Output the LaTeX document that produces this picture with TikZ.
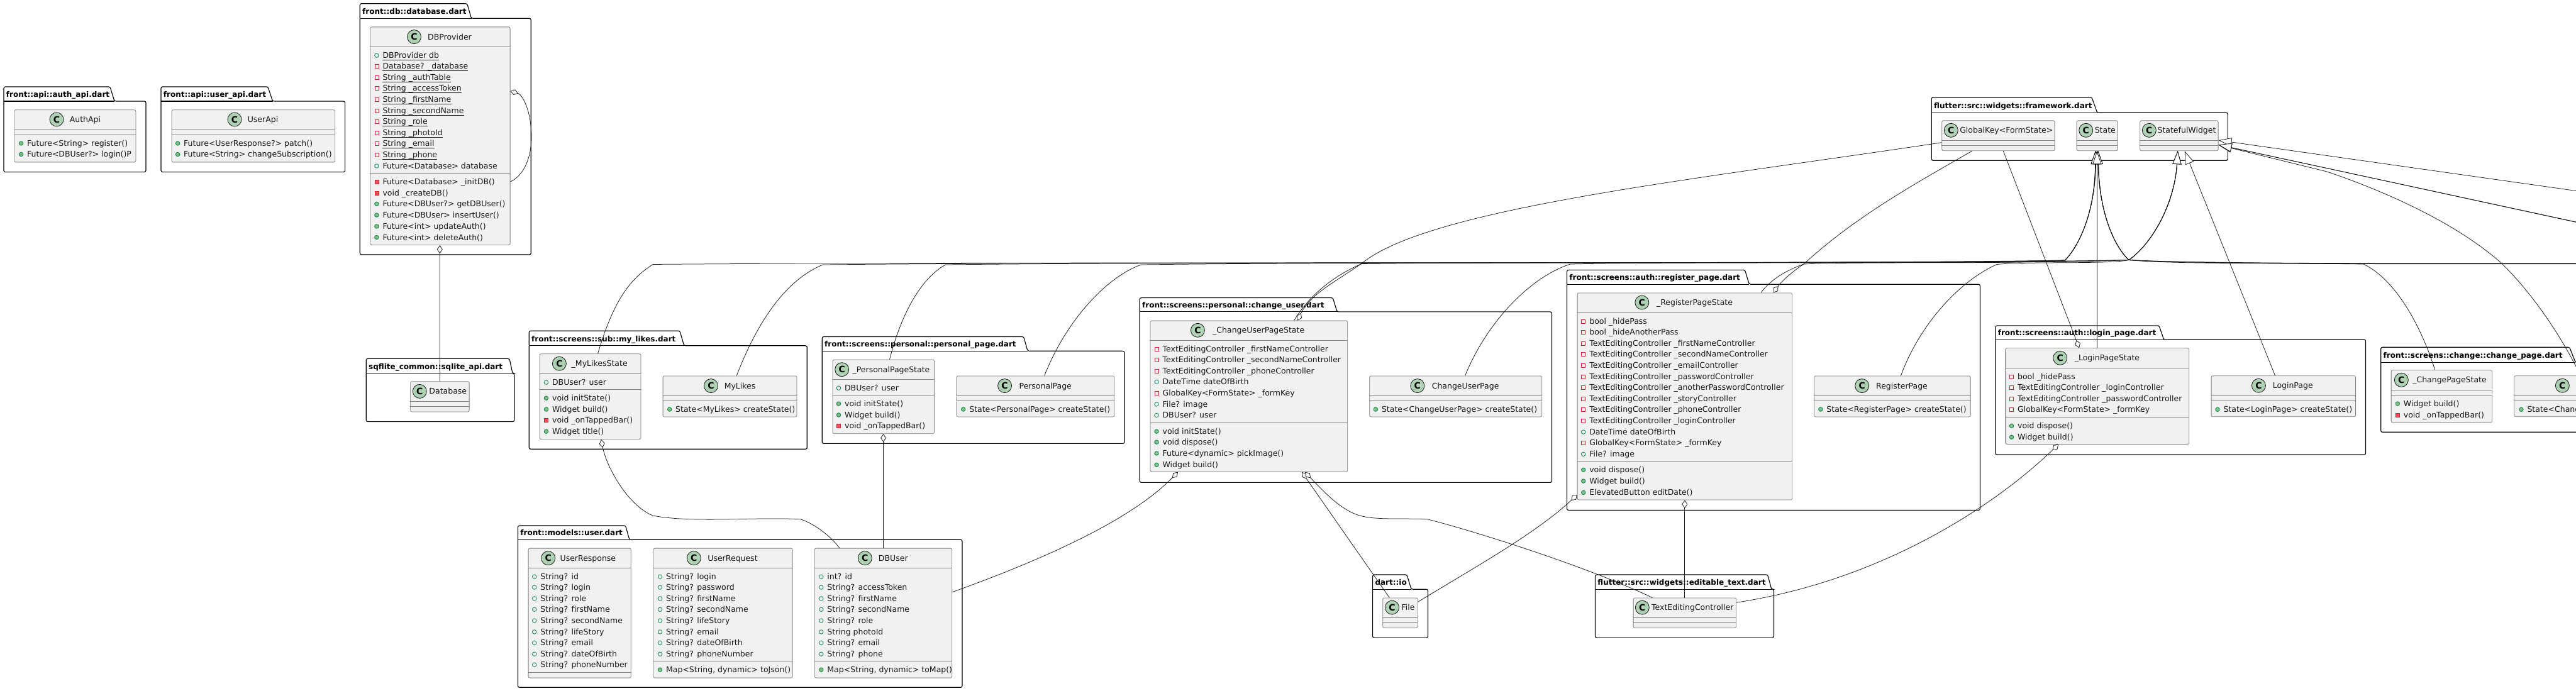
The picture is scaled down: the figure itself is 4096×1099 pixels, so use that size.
\documentclass[tikz,border=0pt]{standalone}
\usepackage{fontspec}
\setmainfont{DejaVu Sans}
\usetikzlibrary{arrows.meta}
\definecolor{boxfill}{HTML}{F1F1F1}
\definecolor{boxline}{HTML}{808080}
\definecolor{circfill}{HTML}{ADD1B2}
\definecolor{ink}{HTML}{181818}
\definecolor{gline}{HTML}{038048}
\definecolor{gfill}{HTML}{84BE84}
\definecolor{rline}{HTML}{C82930}
\definecolor{rfill}{HTML}{F24D5C}
\newcounter{rowc}
\def\rx{0}
\tikzset{
  classbox/.style={draw=boxline,fill=boxfill,line width=0.8pt,rounded corners=2.5pt,inner sep=0pt},
  sepline/.style={draw=boxline,line width=0.8pt},
  circ/.style={circle,draw=ink,fill=circfill,line width=0.8pt,minimum size=22pt,inner sep=0pt,font=\fontsize{14}{14}\selectfont\bfseries,text=black},
  nametxt/.style={anchor=base,inner sep=0pt,font=\fontsize{12.5}{15}\selectfont,text=black!90},
  rowtxt/.style={anchor=base west,inner sep=0pt,font=\fontsize{12.5}{15}\selectfont,text=black!90},
  pkgline/.style={draw=black,line width=1.15pt,rounded corners=2.5pt,fill=white},
  pkgtxt/.style={anchor=base west,inner sep=0pt,font=\fontsize{12}{14}\selectfont\bfseries,text=black},
  ipf/.style={circle,draw=gline,line width=0.8pt,minimum size=6.5pt,inner sep=0pt},
  ipm/.style={circle,draw=gline,fill=gfill,line width=0.8pt,minimum size=6.5pt,inner sep=0pt},
  ixf/.style={rectangle,draw=rline,line width=0.8pt,minimum size=6pt,inner sep=0pt},
  ixm/.style={rectangle,draw=rline,fill=rfill,line width=0.8pt,minimum size=6pt,inner sep=0pt},
  ed/.style={draw=ink,line width=0.75pt},
  inh/.style={-{Triangle[open,fill=white,length=21pt,width=14pt]}},
  agg/.style={{Diamond[open,fill=white,length=13pt,width=9pt]}-},
}
\newcommand\pkg[9]{%
  \draw[pkgline] (#2,#5) -- (#2,#4) -- (#7,#4) -- (#8,#5) -- (#3,#5) -- (#3,#6) -- (#2,#6) -- cycle;
  \draw[draw=black,line width=1.15pt] (#2,#5) -- (#8,#5);
  \node[pkgtxt] (#1) at (#2+3.7,#5-6.6) {#9};}
\newcommand\cbox[7]{%
  \pgfmathsetmacro\cw{#3-#2}\pgfmathsetmacro\ch{#7-#4}%
  \node[classbox,minimum width=\cw pt,minimum height=\ch pt,anchor=north west] (#1) at (#2,#4) {};
  \draw[sepline] (#2,#5) -- (#3,#5);
  \draw[sepline] (#2,#6) -- (#3,#6);}
\newcommand\chead[5]{%
  \node[circ] (#1-c) at (#2,#3) {C};
  \node[nametxt] (#1-n) at (#4,#3+4.5) {#5};}
\newcommand\R[3]{\stepcounter{rowc}%
  \node[#1] (ic\arabic{rowc}) at (\rx-9.4,#2) {};
  \node[rowtxt] (rw\arabic{rowc}) at (\rx,#2+4.5) {#3};}
\newcommand\RU[3]{\R{#1}{#2}{#3}%
  \draw[draw=black!90,line width=0.7pt] ([yshift=-2.6pt]rw\arabic{rowc}.base west) -- ([yshift=-2.6pt]rw\arabic{rowc}.base east);}
% edges to State through the left peak
\newcommand\edgeA[6]{%
  \draw[ed,inh] (#1) .. controls (#2) and (#3) .. (#4,#5) .. controls ({#4+(3283.3-#4)*0.25},415.5) and ({#4+(3283.3-#4)*0.85},420.5) .. (peakL) .. controls (3305,392) and (3331,340) .. ([xshift=#6pt]cState.south west);}
% edges to StatefulWidget through the right peak
\newcommand\edgeB[5]{%
  \draw[ed,inh] (#1) .. controls (#2) and (#3) .. (#4,#5) .. controls ({#4+(3385-#4)*0.25},415.5) and ({#4+(3385-#4)*0.85},420.5) .. (peakR) .. controls (3425,385) and (3458,320) .. ([xshift=60.4pt]cStatefulWidget.south west);}
\begin{document}
\begin{tikzpicture}[x=1pt,y=-1pt]
\useasboundingbox (0,0) rectangle (4096,1099);
\clip (0,0) rectangle (4096,1099);
\fill[white] (0,0) rectangle (4096,1099);

% ---------- packages
\pkg{pAuth}{6}{232}{138}{161}{273.6}{175}{182}{front::api::auth\_api.dart}
\pkg{pUser}{256}{548.6}{138}{161}{273.6}{426}{433.5}{front::api::user\_api.dart}
\pkg{pDb}{572.3}{844.3}{5.7}{29.3}{405}{742.7}{749.5}{front::db::database.dart}
\pkg{pSql}{582.3}{817.7}{570.4}{593.7}{670.6}{810}{815}{sqflite\_common::sqlite\_api.dart}
\pkg{pLikes}{841.3}{1283.3}{526.2}{549.8}{714.3}{1080.9}{1087.7}{front::screens::sub::my\_likes.dart}
\pkg{pPers}{1307.3}{1787.8}{535.5}{558.3}{705.4}{1627.7}{1634}{front::screens::personal::personal\_page.dart}
\pkg{pModels}{823.5}{1530}{836}{858.3}{1093.3}{994.6}{1000.8}{front::models::user.dart}
\pkg{pChUser}{1812.3}{2467.5}{473.6}{495.9}{767.4}{2119.3}{2126}{front::screens::personal::change\_user.dart}
\pkg{pIo}{2182.6}{2270.5}{914}{937.2}{1014.4}{2237}{2244}{dart::io}
\pkg{pReg}{2491.5}{3148.4}{429.4}{452.2}{811.5}{2774.5}{2781.3}{front::screens::auth::register\_page.dart}
\pkg{pEdit}{2536.5}{2820.5}{914}{937.2}{1014.4}{2810.6}{2816.8}{flutter::src::widgets::editable\_text.dart}
\pkg{pFw}{3071.3}{3542.3}{154.7}{179.3}{255.3}{3326}{3334.7}{flutter::src::widgets::framework.dart}
\pkg{pLogin}{3172.9}{3761.5}{517.9}{540.2}{723.3}{3433}{3440.6}{front::screens::auth::login\_page.dart}
\pkg{pChange}{3785.7}{4290}{552.3}{576.3}{687.3}{4085.7}{4095}{front::screens::change::change\_page.dart}

% ---------- classes
\cbox{cAuthApi}{22.5}{215.5}{174.3}{206.4}{214.3}{257.5}
\chead{cAuthApi}{90}{190}{135.5}{AuthApi}
\def\rx{43}
\R{ipm}{228}{Future<String> register()}
\R{ipm}{245.5}{Future<DBUser?> login()P}

\cbox{cUserApi}{272.5}{532.4}{174.3}{206.4}{214.3}{257.5}
\chead{cUserApi}{373}{190}{418}{UserApi}
\def\rx{292}
\R{ipm}{228}{Future<UserResponse?> patch()}
\R{ipm}{245.5}{Future<String> changeSubscription()}

\cbox{cDBProvider}{588.4}{810.7}{42.5}{74.3}{275.4}{389.3}
\chead{cDBProvider}{658.5}{58.6}{715}{DBProvider}
\def\rx{608.3}
\RU{ipf}{88.2}{DBProvider db}
\RU{ixf}{105.4}{Database? \_database}
\RU{ixf}{123.2}{String \_authTable}
\RU{ixf}{140.4}{String \_accessToken}
\RU{ixf}{158.2}{String \_firstName}
\RU{ixf}{176}{String \_secondName}
\RU{ixf}{193.2}{String \_role}
\RU{ixf}{211}{String \_photoId}
\RU{ixf}{228.2}{String \_email}
\RU{ixf}{246}{String \_phone}
\R{ipf}{264}{Future<Database> database}
\R{ixm}{289.3}{Future<Database> \_initDB()}
\R{ixm}{307.1}{void \_createDB()}
\R{ipm}{324.3}{Future<DBUser?> getDBUser()}
\R{ipm}{342.1}{Future<DBUser> insertUser()}
\R{ipm}{360}{Future<int> updateAuth()}
\R{ipm}{377.5}{Future<int> deleteAuth()}

\cbox{cDatabase}{652.3}{745.7}{606.3}{638.5}{646.1}{654.6}
\chead{cDatabase}{667.3}{622.4}{712.3}{Database}

\cbox{cMyLikesState}{857.5}{1018.6}{562.3}{594.4}{619.4}{698.3}
\chead{cMyLikesState}{889.4}{578.3}{953.2}{\_MyLikesState}
\def\rx{877.9}
\R{ipf}{608.2}{DBUser? user}
\R{ipm}{633.2}{void initState()}
\R{ipm}{651}{Widget build()}
\R{ixm}{668}{void \_onTappedBar()}
\R{ipm}{686.2}{Widget title()}

\cbox{cMyLikes}{1053.7}{1266.5}{597.5}{629.6}{637.6}{662.6}
\chead{cMyLikes}{1130.5}{613.6}{1176.6}{MyLikes}
\def\rx{1074}
\R{ipm}{651}{State<MyLikes> createState()}

\cbox{cPersonalPageState}{1323.5}{1485.1}{571.6}{603.3}{628.3}{689.3}
\chead{cPersonalPageState}{1338.7}{587.7}{1417}{\_PersonalPageState}
\def\rx{1342.9}
\R{ipf}{617.1}{DBUser? user}
\R{ipm}{642.1}{void initState()}
\R{ipm}{660}{Widget build()}
\R{ixm}{677.3}{void \_onTappedBar()}

\cbox{cPersonalPage}{1520.7}{1771.5}{597.5}{629.6}{637.6}{662.6}
\chead{cPersonalPage}{1597.6}{613.6}{1662.2}{PersonalPage}
\def\rx{1541.1}
\R{ipm}{651}{State<PersonalPage> createState()}

\cbox{cUserResponse}{839.7}{1002.9}{871.7}{903.8}{1069.2}{1077.7}
\chead{cUserResponse}{871.7}{887.7}{934.9}{UserResponse}
\def\rx{859.1}
\R{ipf}{917.2}{String? id}
\R{ipf}{934.1}{String? login}
\R{ipf}{951.9}{String? role}
\R{ipf}{969.3}{String? firstName}
\R{ipf}{987.1}{String? secondName}
\R{ipf}{1005}{String? lifeStory}
\R{ipf}{1022.4}{String? email}
\R{ipf}{1040.2}{String? dateOfBirth}
\R{ipf}{1057.2}{String? phoneNumber}

\cbox{cUserRequest}{1038.5}{1259.7}{871.7}{903.8}{1051.4}{1077.7}
\chead{cUserRequest}{1103.3}{887.7}{1165}{UserRequest}
\def\rx{1058.9}
\R{ipf}{917.2}{String? login}
\R{ipf}{934.1}{String? password}
\R{ipf}{951.9}{String? firstName}
\R{ipf}{969.3}{String? secondName}
\R{ipf}{987.1}{String? lifeStory}
\R{ipf}{1005}{String? email}
\R{ipf}{1022.4}{String? dateOfBirth}
\R{ipf}{1040.2}{String? phoneNumber}
\R{ipm}{1065.2}{Map<String, dynamic> toJson()}

\cbox{cDBUser}{1294.8}{1513.4}{871.7}{903.8}{1051.4}{1077.7}
\chead{cDBUser}{1375.3}{887.7}{1420.3}{DBUser}
\def\rx{1315.2}
\R{ipf}{917.2}{int? id}
\R{ipf}{934.1}{String? accessToken}
\R{ipf}{951.9}{String? firstName}
\R{ipf}{969.3}{String? secondName}
\R{ipf}{987.1}{String? role}
\R{ipf}{1005}{String photoId}
\R{ipf}{1022.4}{String? email}
\R{ipf}{1040.2}{String? phone}
\R{ipm}{1065.2}{Map<String, dynamic> toMap()}

\cbox{cChangeUserPageState}{1828.6}{2142.4}{509.7}{541.3}{672}{750}
\chead{cChangeUserPageState}{1904.4}{525.3}{2001.2}{\_ChangeUserPageState}
\def\rx{1848.4}
\R{ixf}{555.2}{TextEditingController \_firstNameController}
\R{ixf}{572.1}{TextEditingController \_secondNameController}
\R{ixf}{589.9}{TextEditingController \_phoneController}
\R{ipf}{607.3}{DateTime dateOfBirth}
\R{ixf}{625.1}{GlobalKey<FormState> \_formKey}
\R{ipf}{643}{File? image}
\R{ipf}{660.4}{DBUser? user}
\R{ipm}{686.2}{void initState()}
\R{ipm}{703.2}{void dispose()}
\R{ipm}{721}{Future<dynamic> pickImage()}
\R{ipm}{739.3}{Widget build()}

\cbox{cChangeUserPage}{2177.4}{2451.3}{597.5}{629.6}{637.6}{662.6}
\chead{cChangeUserPage}{2253.8}{613.6}{2330.1}{ChangeUserPage}
\def\rx{2196.8}
\R{ipm}{651}{State<ChangeUserPage> createState()}

\cbox{cFile}{2198.3}{2253.8}{950.6}{982.2}{990.3}{998.3}
\chead{cFile}{2213.5}{966.2}{2239.1}{File}

\cbox{cRegisterPageState}{2507.7}{2849.3}{465.5}{497.2}{733}{794.6}
\chead{cRegisterPageState}{2610.8}{481.1}{2694.5}{\_RegisterPageState}
\def\rx{2527.1}
\R{ixf}{511}{bool \_hidePass}
\R{ixf}{528}{bool \_hideAnotherPass}
\R{ixf}{546.2}{TextEditingController \_firstNameController}
\R{ixf}{563.2}{TextEditingController \_secondNameController}
\R{ixf}{581}{TextEditingController \_emailController}
\R{ixf}{599.3}{TextEditingController \_passwordController}
\R{ixf}{616.2}{TextEditingController \_anotherPasswordController}
\R{ixf}{634.1}{TextEditingController \_storyController}
\R{ixf}{651}{TextEditingController \_phoneController}
\R{ixf}{669.3}{TextEditingController \_loginController}
\R{ipf}{687.1}{DateTime dateOfBirth}
\R{ixf}{704.1}{GlobalKey<FormState> \_formKey}
\R{ipf}{722.3}{File? image}
\R{ipm}{747.3}{void dispose()}
\R{ipm}{765.1}{Widget build()}
\R{ipm}{783.4}{ElevatedButton editDate()}

\cbox{cRegisterPage}{2884.3}{3132.7}{597.5}{629.6}{637.6}{662.6}
\chead{cRegisterPage}{2960.7}{613.6}{3024}{RegisterPage}
\def\rx{2904.2}
\R{ipm}{651}{State<RegisterPage> createState()}

\cbox{cTextEditingController}{2596.7}{2760.4}{950.6}{982.2}{990.3}{998.3}
\chead{cTextEditingController}{2611.3}{966.2}{2691.3}{TextEditingController}

\cbox{cGlobalKey}{3087.3}{3266.7}{191.3}{223.3}{231.3}{239.3}
\chead{cGlobalKey}{3102.3}{207.3}{3190.3}{GlobalKey<FormState>}
\cbox{cState}{3301.7}{3366.7}{191.3}{223.3}{231.3}{239.3}
\chead{cState}{3316.7}{207.3}{3347.3}{State}
\cbox{cStatefulWidget}{3402.3}{3526.7}{191.3}{223.3}{231.3}{239.3}
\chead{cStatefulWidget}{3417.3}{207.3}{3477}{StatefulWidget}

\cbox{cLoginPageState}{3188.2}{3480.4}{553.3}{585.3}{663.3}{706}
\chead{cLoginPageState}{3275.7}{569.3}{3350.4}{\_LoginPageState}
\def\rx{3207.9}
\R{ixf}{599.3}{bool \_hidePass}
\R{ixf}{616.3}{TextEditingController \_loginController}
\R{ixf}{634}{TextEditingController \_passwordController}
\R{ixf}{651.3}{GlobalKey<FormState> \_formKey}
\R{ipm}{677.3}{void dispose()}
\R{ipm}{695.3}{Widget build()}

\cbox{cLoginPage}{3515.7}{3745.2}{597.3}{629.3}{637.3}{662.3}
\chead{cLoginPage}{3591.4}{613.3}{3645.7}{LoginPage}
\def\rx{3535.4}
\R{ipm}{651.3}{State<LoginPage> createState()}

\cbox{cChangePageState}{3801.7}{3962.3}{588.3}{620.3}{628.3}{671.7}
\chead{cChangePageState}{3818.3}{604.3}{3895}{\_ChangePageState}
\def\rx{3821.7}
\R{ipm}{642}{Widget build()}
\R{ixm}{660}{void \_onTappedBar()}

\cbox{cChangePage}{3997.3}{4270}{597.3}{629.3}{637.3}{662.3}
\node[circ] (cChangePage-c) at (4074.3,613.3) {C};
\def\rx{4018.3}
\R{ipm}{651.3}{State<ChangePage> createState()}

% ---------- connectors
\coordinate (peakL) at (3283.3,414);
\coordinate (peakR) at (3385,413.5);
\coordinate (offA) at (4300,419.5);
\coordinate (offB) at (4300,419);
\coordinate (offC) at (4300,418.5);
\coordinate (offD) at (4300,332.4);
\coordinate (offE) at (4300,397);
\coordinate (offF) at (4300,397.6);

\edgeA{[xshift=93.1pt]cMyLikesState.north west}{975,480}{1000,445}{1038}{420.5}{30}
\edgeA{[xshift=91pt]cPersonalPageState.north west}{1430,510}{1460,445}{1503.4}{421}{30.6}
\edgeA{[xshift=229pt]cChangeUserPageState.north west}{2085,465}{2125,437}{2165}{419.5}{31.2}
\edgeA{[xshift=292.3pt]cRegisterPageState.north west}{2815,445}{2840,430}{2868}{420}{30.2}

\edgeB{[xshift=117.6pt]cMyLikes.north west}{1205,510}{1250,445}{1308.4}{421}
\edgeB{[xshift=140pt]cPersonalPage.north west}{1695,510}{1760,440}{1814.4}{421}
\edgeB{[xshift=152.2pt]cChangeUserPage.north west}{2365,510}{2435,440}{2496.8}{420}
\edgeB{[xshift=138.1pt]cRegisterPage.north west}{3055,510}{3120,445}{3175}{420.5}

\draw[ed,inh] ([xshift=70pt]cChangePageState.north west) .. controls (3850,520) and (3810,445) .. (3758,420) .. controls (3600,418) and (3450,420) .. (peakR) .. controls (3365,395) and (3338,345) .. ([xshift=34.7pt]cState.south west);
\draw[ed,inh] (offA) .. controls (3900,420) and (3500,421) .. (peakR) .. controls (3365,395) and (3338,345) .. ([xshift=34.2pt]cState.south west);
\draw[ed,inh] (offB) .. controls (3900,419.5) and (3500,420.5) .. (peakR) .. controls (3365,395) and (3338,345) .. ([xshift=33.8pt]cState.south west);
\draw[ed,inh] (offC) .. controls (3900,419) and (3500,420) .. (peakR) .. controls (3365,395) and (3338,345) .. ([xshift=34.4pt]cState.south west);

\draw[ed,inh] ([xshift=146.1pt]cLoginPageState.north west) -- ([xshift=32.6pt]cState.south west);
\draw[ed,inh] ([xshift=101.8pt]cLoginPage.north west) -- ([xshift=71.4pt]cStatefulWidget.south west);
\draw[ed,inh] ([xshift=106pt]cChangePage.north west) .. controls (4060,510) and (4010,450) .. (3976.7,418) .. controls (3900,350) and (3780,300) .. (3700,273) -- ([yshift=-14.9pt]cStatefulWidget.east);
\draw[ed,inh] (offD) -- ([yshift=-7.4pt]cStatefulWidget.east);
\draw[ed,inh] (offE) -- ([yshift=-14.7pt]cStatefulWidget.east);
\draw[ed,inh] (offF) -- ([yshift=-14.5pt]cStatefulWidget.east);

\draw[ed,agg] ([yshift=-102.5pt]cDBProvider.north east) .. controls (830,150) and (845,175) .. (845,218) .. controls (845,255) and (830,281) .. ([yshift=-246.5pt]cDBProvider.north east);
\draw[ed,agg] ([xshift=110.9pt]cDBProvider.south west) -- ([xshift=47pt]cDatabase.north west);
\draw[ed,agg] ([xshift=98.4pt]cMyLikesState.south west) .. controls (965,745) and (1000,805) .. (1038,820) .. controls (1100,832) and (1200,822) .. (1273,825.8) .. controls (1295,833) and (1320,852) .. ([xshift=40.2pt]cDBUser.north west);
\draw[ed,agg] ([xshift=81.1pt]cPersonalPageState.south west) -- ([xshift=109.8pt]cDBUser.north west);
\draw[ed,agg] ([xshift=44.4pt]cChangeUserPageState.south west) .. controls (1810,815) and (1700,875) .. ([yshift=-70pt]cDBUser.north east);
\draw[ed,agg] ([xshift=241.4pt]cChangeUserPageState.south west) -- ([xshift=11pt]cFile.north west);
\draw[ed,agg] ([xshift=246.4pt]cChangeUserPageState.south west) .. controls (2105,782) and (2135,815) .. (2167.5,821.3) .. controls (2190,827) and (2240,824) .. (2269.5,825.8) .. controls (2320,838) and (2510,895) .. ([xshift=30.8pt]cTextEditingController.north west);
\draw[ed,agg] ([yshift=-321.5pt]cRegisterPageState.north west) .. controls (2440,850) and (2340,905) .. ([yshift=-6.7pt]cFile.north east);
\draw[ed,agg] ([xshift=171.1pt]cRegisterPageState.south west) -- ([xshift=82.1pt]cTextEditingController.north west);
\draw[ed,agg] ([xshift=84.8pt]cLoginPageState.south west) .. controls (3160,815) and (2980,925) .. ([yshift=-7.6pt]cTextEditingController.north east);
\draw[ed,agg] ([xshift=234.4pt]cChangeUserPageState.north west) .. controls (2085,465) and (2130,445) .. (2168,416.7) .. controls (2280,330) and (2700,285) .. ([yshift=-35.4pt]cGlobalKey.north west);
\draw[ed,agg] ([xshift=311.8pt]cRegisterPageState.north west) .. controls (2835,445) and (2850,432) .. (2868,420) .. controls (2950,345) and (3040,295) .. ([xshift=48.4pt]cGlobalKey.south west);
\draw[ed,agg] ([xshift=117.8pt]cLoginPageState.north west) -- ([xshift=98pt]cGlobalKey.south west);
\end{tikzpicture}
\end{document}
